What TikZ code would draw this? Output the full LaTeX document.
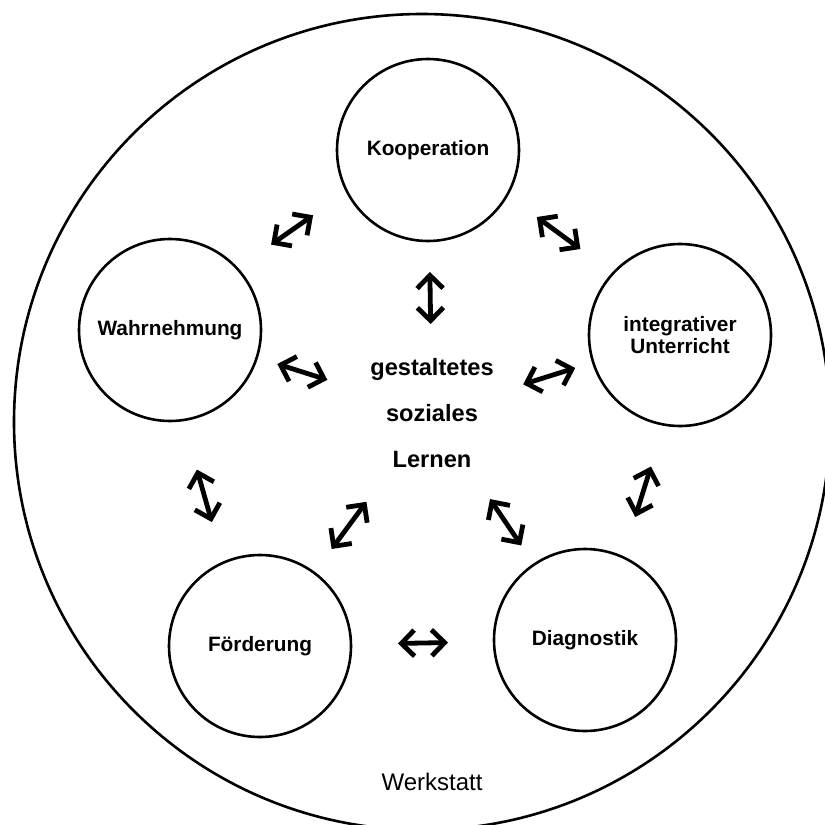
\documentclass[tikz,border=0pt]{standalone}
\usepackage{fontspec}
\setmainfont{Liberation Sans}
\usetikzlibrary{arrows.meta}
\tikzset{
	feld/.style={circle,draw=black,line width=1.3pt,inner sep=0pt,minimum size=91pt,align=center,font=\fontsize{10.4}{11}\selectfont\bfseries},
	rahmen/.style={circle,draw=black,line width=1.3pt,inner sep=0pt,minimum size=408pt},
	mitte/.style={align=center,font=\fontsize{11.8}{23}\selectfont\bfseries},
	wechsel/.style={line width=2.4pt,{Straight Barb[length=6.5pt,width=13pt]}-{Straight Barb[length=6.5pt,width=13pt]}},
	}

\begin{document}
\begin{tikzpicture}[x=0.5pt,y=-0.5pt]
\useasboundingbox (0,0) rectangle (825,825);

\node (werk) at (422,422) [rahmen] {};
\node (werklabel) at (432,782) {\fontsize{12}{14}\selectfont Werkstatt};

\node (koop) at (428,150) [feld] {Kooperation};
\node (wahr) at (170,330) [feld] {Wahrnehmung};
\node (integ) at (680,335) [feld] {integrativer\\Unterricht};
\node (foerd) at (260,646) [feld] {Förderung};
\node (diag) at (585,640) [feld] {Diagnostik};
\node (lernen) at (432,413) [mitte] {gestaltetes\\soziales\\Lernen};

% Wechselwirkungen
\foreach \a/\b/\s/\e/\ox/\oy in {koop/wahr/65.8/65.9/-7/-10, koop/integ/63.8/65.5/6/-8.5, koop/lernen/61/44.5/0/0,
	wahr/lernen/56.3/54.9/0/0, integ/lernen/54.9/47.8/0/0, wahr/foerd/71/66/-12/3,
	foerd/lernen/60.3/55.2/0/0, diag/lernen/57/51.9/0/0, integ/diag/67.3/66/11/3, foerd/diag/69/68.5/0/0}
  \draw[wechsel,shorten <=\s pt,shorten >=\e pt,transform canvas={shift={(\ox,\oy)}}] (\a.center) -- (\b.center);
\end{tikzpicture}
\end{document}
